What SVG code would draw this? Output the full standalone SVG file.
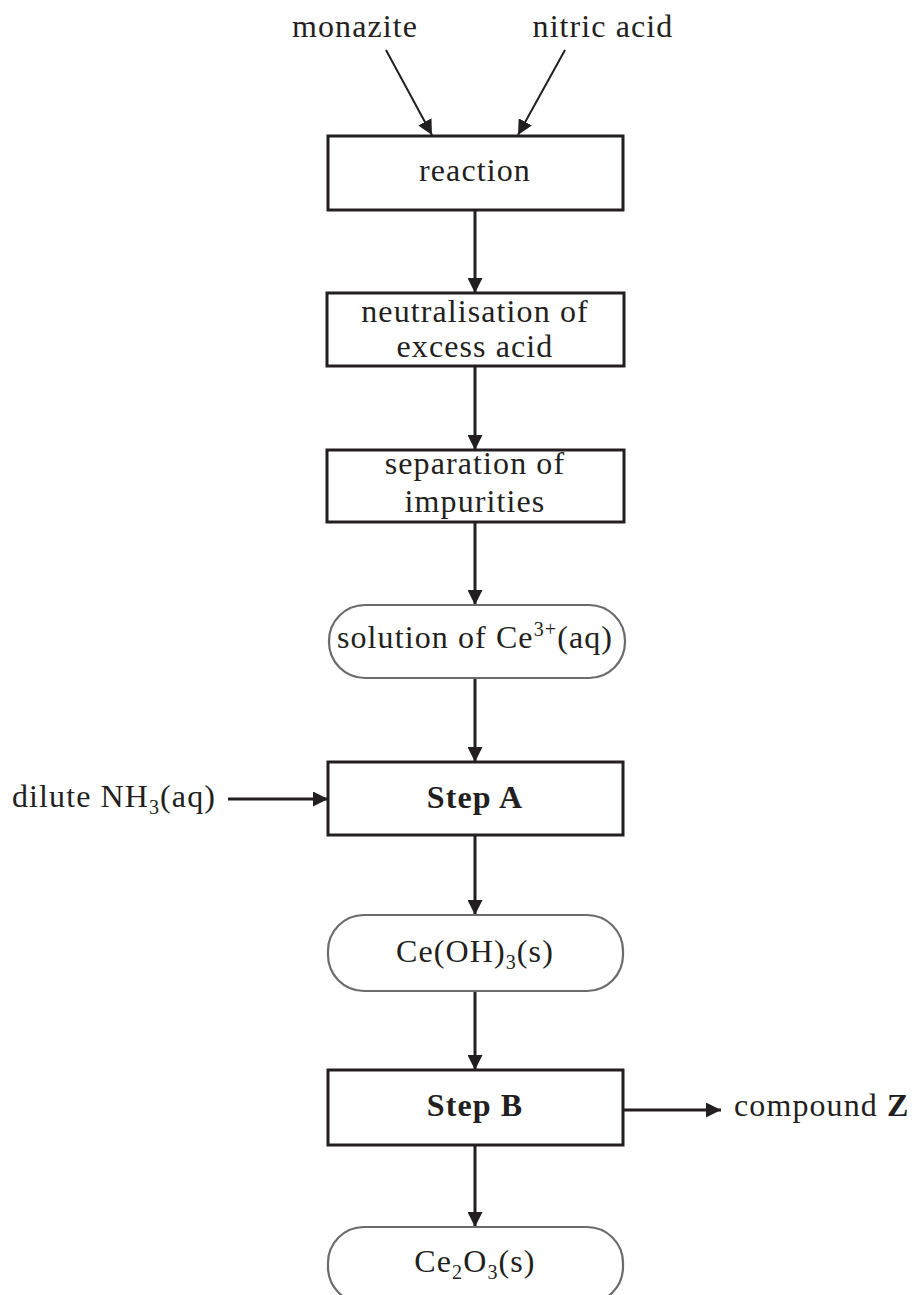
<svg xmlns="http://www.w3.org/2000/svg" width="914" height="1295" viewBox="0 0 914 1295">
<style>
  .box { fill: #fff; stroke: #231f20; stroke-width: 3; }
  .pill { fill: #fff; stroke: #6b6b6b; stroke-width: 2.2; }
  .t { font-family: "Liberation Serif", "Times New Roman", serif; font-size: 32px; letter-spacing: 1.1px; fill: #231f20; text-anchor: middle; }
  .b { font-weight: bold; }
  .l { text-anchor: start; }
  .c { stroke: #231f20; stroke-width: 3; fill: none; marker-end: url(#ah); }
  .thin { stroke-width: 2; }
</style>
<defs>
  <marker id="ah" viewBox="0 0 10 10" refX="10" refY="5" markerWidth="15" markerHeight="15" markerUnits="userSpaceOnUse" orient="auto">
    <path d="M0,0 L10,5 L0,10 z" fill="#231f20"/>
  </marker>
</defs>
<rect width="914" height="1295" fill="#fff"/>

<g id="connectors">
  <line class="c thin" x1="386" y1="50" x2="432" y2="135"/>
  <line class="c thin" x1="565" y1="50" x2="518" y2="135"/>
  <line class="c" x1="475" y1="210" x2="475" y2="293"/>
  <line class="c" x1="475" y1="366" x2="475" y2="450"/>
  <line class="c" x1="475" y1="522" x2="475" y2="605"/>
  <line class="c" x1="475" y1="678" x2="475" y2="762"/>
  <line class="c" x1="228" y1="799" x2="328" y2="799"/>
  <line class="c" x1="475" y1="835" x2="475" y2="915"/>
  <line class="c" x1="475" y1="991" x2="475" y2="1070"/>
  <line class="c" x1="623" y1="1110" x2="721" y2="1110"/>
  <line class="c" x1="475" y1="1145" x2="475" y2="1227"/>
</g>

<g id="monazite"><text class="t" x="355" y="37">monazite</text></g>
<g id="nitric-acid"><text class="t" x="603" y="37">nitric acid</text></g>

<g id="reaction">
  <rect class="box" x="328" y="136" width="295" height="74"/>
  <text class="t" x="475" y="181">reaction</text>
</g>

<g id="neutralisation">
  <rect class="box" x="327" y="293" width="297" height="73"/>
  <text class="t" x="475" y="322">neutralisation of</text>
  <text class="t" x="475" y="357">excess acid</text>
</g>

<g id="separation">
  <rect class="box" x="327" y="450" width="297" height="72"/>
  <text class="t" x="475" y="474">separation of</text>
  <text class="t" x="475" y="512">impurities</text>
</g>

<g id="solution">
  <rect class="pill" x="329" y="605" width="296" height="73" rx="36" ry="36"/>
  <text class="t" x="475" y="648">solution of Ce<tspan font-size="20" dy="-12">3+</tspan><tspan dy="12">(aq)</tspan></text>
</g>

<g id="dilute-nh3">
  <text class="t l" x="12" y="807">dilute NH<tspan font-size="20" dy="7">3</tspan><tspan dy="-7">(aq)</tspan></text>
</g>

<g id="step-a">
  <rect class="box" x="328" y="762" width="295" height="73"/>
  <text class="t b" x="475" y="808">Step A</text>
</g>

<g id="ceoh3">
  <rect class="pill" x="328" y="915" width="295" height="76" rx="36" ry="36"/>
  <text class="t" x="475" y="962">Ce(OH)<tspan font-size="20" dy="7">3</tspan><tspan dy="-7">(s)</tspan></text>
</g>

<g id="step-b">
  <rect class="box" x="328" y="1070" width="295" height="75"/>
  <text class="t b" x="475" y="1116">Step B</text>
</g>

<g id="compound-z">
  <text class="t l" x="734" y="1116">compound <tspan font-weight="bold">Z</tspan></text>
</g>

<g id="ce2o3">
  <rect class="pill" x="328" y="1227" width="295" height="76" rx="36" ry="36"/>
  <text class="t" x="475" y="1272">Ce<tspan font-size="20" dy="7">2</tspan><tspan dy="-7">O</tspan><tspan font-size="20" dy="7">3</tspan><tspan dy="-7">(s)</tspan></text>
</g>
</svg>
